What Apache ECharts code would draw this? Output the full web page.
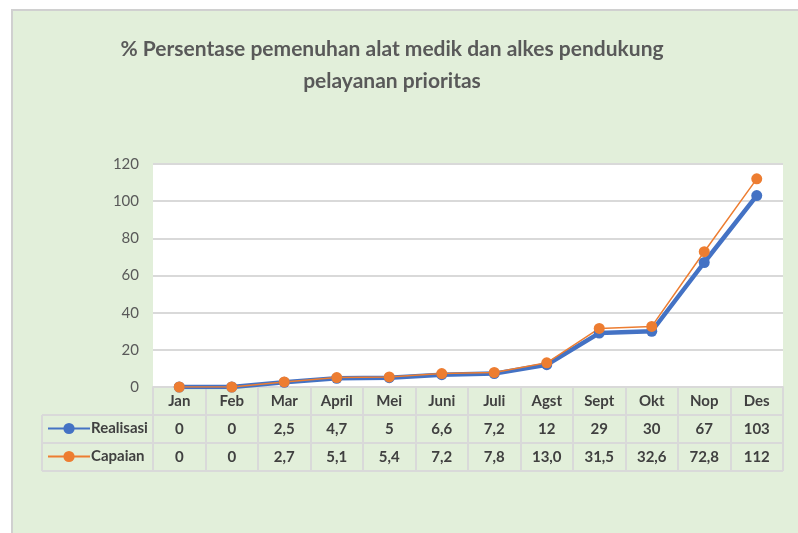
<!DOCTYPE html>
<html>
<head>
	<meta charset="utf-8">
	<title>Persentase pemenuhan alat medik</title>
	<script src="https://cdn.jsdelivr.net/npm/echarts@6/dist/echarts.min.js"></script>
	<style>
		html, body { margin: 0; padding: 0; background: #fff; }
		#echarts { width: 798px; height: 533px; }
	</style>
</head>
<body>
	<div id="echarts"></div>
	<script>
	// data
	var months = ['Jan', 'Feb', 'Mar', 'April', 'Mei', 'Juni', 'Juli', 'Agst', 'Sept', 'Okt', 'Nop', 'Des'];
	var realisasi = [0, 0, 2.5, 4.7, 5, 6.6, 7.2, 12, 29, 30, 67, 103];
	var capaian = [0, 0, 2.7, 5.1, 5.4, 7.2, 7.8, 13.0, 31.5, 32.6, 72.8, 112];
	// table labels as printed
	var realisasiLabels = ['0', '0', '2,5', '4,7', '5', '6,6', '7,2', '12', '29', '30', '67', '103'];
	var capaianLabels = ['0', '0', '2,7', '5,1', '5,4', '7,2', '7,8', '13,0', '31,5', '32,6', '72,8', '112'];

	var FONT = 'Lato';
	var gridL = 153, gridR = 783, gridT = 164, gridB = 387;
	var rowH = 28;
	var lineCol = '#D9D9D9';
	var txt = '#595959';

	var myChart = echarts.init(document.getElementById('echarts'));

	function tableAxis(data, off) {
		return {
			type: 'category',
			position: 'bottom',
			offset: off,
			data: data,
			axisLine: { show: false },
			axisTick: { show: false },
			axisLabel: { interval: 0, margin: 7, color: '#404040', fontFamily: FONT, fontSize: 15, fontWeight: 'bold' }
		};
	}

	var option = {
		backgroundColor: '#fff',
		textStyle: { fontFamily: FONT },
		title: {
			text: '% Persentase pemenuhan alat medik dan alkes pendukung\npelayanan prioritas',
			left: 387,
			top: 28,
			textAlign: 'center',
			textStyle: { color: txt, fontFamily: FONT, fontSize: 21, fontWeight: 'bold', lineHeight: 32 }
		},
		legend: {
			orient: 'vertical',
			left: 42,
			top: 416,
			itemGap: 13,
			itemWidth: 42,
			itemHeight: 14,
			data: ['Realisasi', 'Capaian'],
			textStyle: { color: '#404040', fontFamily: FONT, fontSize: 15, fontWeight: 'bold', padding: [0, 0, 0, -4] }
		},
		graphic: [
			{ type: 'rect', z: -10, shape: { x: 12, y: 10, width: 790, height: 530 }, style: { fill: '#E2EFDA', stroke: '#D0D0D0', lineWidth: 2 } },
			{ type: 'line', shape: { x1: 42, y1: gridB + rowH, x2: gridR, y2: gridB + rowH }, style: { stroke: lineCol, lineWidth: 2 } },
			{ type: 'line', shape: { x1: 42, y1: gridB + rowH * 2, x2: gridR, y2: gridB + rowH * 2 }, style: { stroke: lineCol, lineWidth: 2 } },
			{ type: 'line', shape: { x1: 42, y1: gridB + rowH * 3, x2: gridR, y2: gridB + rowH * 3 }, style: { stroke: lineCol, lineWidth: 2 } },
			{ type: 'line', shape: { x1: 42, y1: gridB + rowH, x2: 42, y2: gridB + rowH * 3 }, style: { stroke: lineCol, lineWidth: 2 } }
		],
		grid: {
			left: gridL,
			right: 798 - gridR,
			top: gridT,
			bottom: 533 - gridB,
			show: true,
			backgroundColor: '#fff',
			borderWidth: 0
		},
		xAxis: [
			{
				type: 'category',
				data: months,
				boundaryGap: true,
				axisLine: { show: true, lineStyle: { color: lineCol, width: 2 } },
				axisTick: { show: true, interval: 0, length: rowH * 3, lineStyle: { color: lineCol, width: 2 } },
				axisLabel: { interval: 0, margin: 7, color: '#404040', fontFamily: FONT, fontSize: 15, fontWeight: 'bold' }
			},
			tableAxis(realisasiLabels, rowH),
			tableAxis(capaianLabels, rowH * 2)
		],
		yAxis: {
			type: 'value',
			min: 0,
			max: 120,
			interval: 20,
			axisLine: { show: false },
			axisTick: { show: false },
			axisLabel: { color: txt, fontFamily: FONT, fontSize: 15, margin: 14 },
			splitLine: { lineStyle: { color: lineCol, width: 2 } }
		},
		series: [
			{
				name: 'Realisasi',
				type: 'line',
				data: realisasi,
				symbol: 'circle',
				symbolSize: 11,
				color: '#4472C4',
				lineStyle: { width: 4.5, color: '#4472C4' },
				itemStyle: { color: '#4472C4' }
			},
			{
				name: 'Capaian',
				type: 'line',
				data: capaian,
				symbol: 'circle',
				symbolSize: 11,
				color: '#ED7D31',
				lineStyle: { width: 1.5, color: '#ED7D31' },
				itemStyle: { color: '#ED7D31' }
			}
		]
	};

	myChart.setOption(option);
	</script>
</body>
</html>
